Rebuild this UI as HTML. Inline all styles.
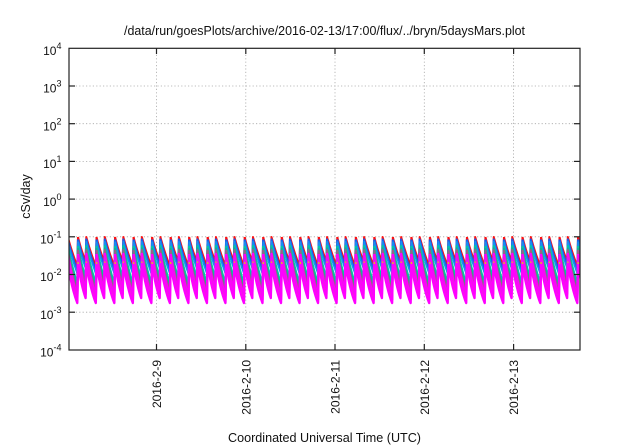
<!DOCTYPE html>
<html><head><meta charset="utf-8"><style>
html,body{margin:0;padding:0;background:#fff;}
svg{display:block;font-family:"Liberation Sans",Arial,sans-serif;}
</style></head><body>
<svg width="640" height="448" viewBox="0 0 640 448" xmlns="http://www.w3.org/2000/svg">
<defs>
<clipPath id="pc"><rect x="69" y="48" width="511" height="302"/></clipPath>
<g id="pair" fill="none" stroke-linejoin="round">
<path stroke="#ff1010" stroke-width="2" d="M0,237 Q3.4,251 7.6,261 L8.3,237 Q12.5,252.5 17.8,266 L18.52,237"/>
<path stroke="#1a5ce8" stroke-width="2.2" d="M0,239.5 Q3.4,254.5 7.6,265.5 L8.3,239.5 Q12.5,256 17.8,271 L18.52,239.5"/>
<path stroke="#1890f0" stroke-width="1.6" d="M0,241.5 Q3.4,257 7.6,268.5 L8.3,241.5 Q12.5,259 17.8,274 L18.52,241.5"/>
<path stroke="#00c8a8" stroke-width="2.2" d="M0,246 Q3.4,265 7.6,278 L8.3,246 Q12.5,267 17.8,284 L18.52,246"/>
<path stroke="#20a890" stroke-width="1.4" d="M0,248 Q3.4,268 7.6,282 L8.3,248 Q12.5,270.5 17.8,288 L18.52,248"/>
<path stroke="#9a6088" stroke-width="2" d="M0,250 Q3.4,272 7.6,286 L8.3,250 Q12.5,274.5 17.8,292 L18.52,250"/>
<path stroke="#ff00ff" stroke-width="2.4" d="M0,254 Q3.4,277 7.6,290.5 L8.3,254 Q12.5,280 17.8,296 L18.52,254"/>
<path stroke="#f010f0" stroke-width="2.4" d="M0,258 Q3.4,281 7.6,294 L8.3,258 Q12.5,284 17.8,299.5 L18.52,258"/>
<path stroke="#e0c020" stroke-width="1.2" d="M0,262 Q3.4,284 7.6,296 L8.3,262 Q12.5,287 17.8,301 L18.52,262"/>
<path stroke="#ff00ff" stroke-width="2.4" d="M0,264 Q3.4,286 7.6,298 L8.3,264 Q12.5,289 17.8,303 L18.52,264"/>
</g>
</defs>

<!-- grid -->
<g stroke="#a8a8a8" stroke-width="0.8" stroke-dasharray="1.2,2.2" fill="none">
<line x1="69" y1="86" x2="580" y2="86"/>
<line x1="69" y1="123.7" x2="580" y2="123.7"/>
<line x1="69" y1="161.4" x2="580" y2="161.4"/>
<line x1="69" y1="199.1" x2="580" y2="199.1"/>
<line x1="69" y1="236.8" x2="580" y2="236.8"/>
<line x1="69" y1="274.5" x2="580" y2="274.5"/>
<line x1="69" y1="312.2" x2="580" y2="312.2"/>
<line x1="156.5" y1="48" x2="156.5" y2="350"/>
<line x1="245.8" y1="48" x2="245.8" y2="350"/>
<line x1="335" y1="48" x2="335" y2="350"/>
<line x1="424.3" y1="48" x2="424.3" y2="350"/>
<line x1="513.6" y1="48" x2="513.6" y2="350"/>
</g>

<!-- data -->
<g clip-path="url(#pc)">
<use href="#pair" x="59.48"/>
<use href="#pair" x="78"/>
<use href="#pair" x="96.52"/>
<use href="#pair" x="115.04"/>
<use href="#pair" x="133.56"/>
<use href="#pair" x="152.08"/>
<use href="#pair" x="170.6"/>
<use href="#pair" x="189.12"/>
<use href="#pair" x="207.64"/>
<use href="#pair" x="226.16"/>
<use href="#pair" x="244.68"/>
<use href="#pair" x="263.2"/>
<use href="#pair" x="281.72"/>
<use href="#pair" x="300.24"/>
<use href="#pair" x="318.76"/>
<use href="#pair" x="337.28"/>
<use href="#pair" x="355.8"/>
<use href="#pair" x="374.32"/>
<use href="#pair" x="392.84"/>
<use href="#pair" x="411.36"/>
<use href="#pair" x="429.88"/>
<use href="#pair" x="448.4"/>
<use href="#pair" x="466.92"/>
<use href="#pair" x="485.44"/>
<use href="#pair" x="503.96"/>
<use href="#pair" x="522.48"/>
<use href="#pair" x="541"/>
<use href="#pair" x="559.52"/>
<use href="#pair" x="578.04"/>
</g>

<!-- border -->
<rect x="69" y="48.3" width="511" height="301.7" fill="none" stroke="#222" stroke-width="1.2"/>
<!-- ticks -->
<g stroke="#222" stroke-width="1.2">
<line x1="69" y1="86" x2="75" y2="86"/><line x1="574" y1="86" x2="580" y2="86"/>
<line x1="69" y1="123.7" x2="75" y2="123.7"/><line x1="574" y1="123.7" x2="580" y2="123.7"/>
<line x1="69" y1="161.4" x2="75" y2="161.4"/><line x1="574" y1="161.4" x2="580" y2="161.4"/>
<line x1="69" y1="199.1" x2="75" y2="199.1"/><line x1="574" y1="199.1" x2="580" y2="199.1"/>
<line x1="69" y1="236.8" x2="75" y2="236.8"/><line x1="574" y1="236.8" x2="580" y2="236.8"/>
<line x1="69" y1="274.5" x2="75" y2="274.5"/><line x1="574" y1="274.5" x2="580" y2="274.5"/>
<line x1="69" y1="312.2" x2="75" y2="312.2"/><line x1="574" y1="312.2" x2="580" y2="312.2"/>
<line x1="156.5" y1="350" x2="156.5" y2="344"/><line x1="156.5" y1="48" x2="156.5" y2="54"/>
<line x1="245.8" y1="350" x2="245.8" y2="344"/><line x1="245.8" y1="48" x2="245.8" y2="54"/>
<line x1="335" y1="350" x2="335" y2="344"/><line x1="335" y1="48" x2="335" y2="54"/>
<line x1="424.3" y1="350" x2="424.3" y2="344"/><line x1="424.3" y1="48" x2="424.3" y2="54"/>
<line x1="513.6" y1="350" x2="513.6" y2="344"/><line x1="513.6" y1="48" x2="513.6" y2="54"/>
</g>

<!-- title -->
<text x="324.5" y="35" font-size="12.5" text-anchor="middle" fill="#111" textLength="401" lengthAdjust="spacingAndGlyphs">/data/run/goesPlots/archive/2016-02-13/17:00/flux/../bryn/5daysMars.plot</text>

<!-- y tick labels -->
<g font-size="12" fill="#111" text-anchor="end">
<text x="61.5" y="55">10<tspan font-size="9" dy="-6">4</tspan></text>
<text x="61.5" y="92.7">10<tspan font-size="9" dy="-6">3</tspan></text>
<text x="61.5" y="130.4">10<tspan font-size="9" dy="-6">2</tspan></text>
<text x="61.5" y="168.1">10<tspan font-size="9" dy="-6">1</tspan></text>
<text x="61.5" y="205.8">10<tspan font-size="9" dy="-6">0</tspan></text>
<text x="61.5" y="243.5">10<tspan font-size="9" dy="-6">-1</tspan></text>
<text x="61.5" y="281.2">10<tspan font-size="9" dy="-6">-2</tspan></text>
<text x="61.5" y="318.9">10<tspan font-size="9" dy="-6">-3</tspan></text>
<text x="61.5" y="356.6">10<tspan font-size="9" dy="-6">-4</tspan></text>
</g>

<!-- y label -->
<text transform="translate(30,196.5) rotate(-90)" font-size="12.5" text-anchor="middle" fill="#111">cSv/day</text>

<!-- x tick labels -->
<g font-size="12" fill="#111" text-anchor="end">
<text transform="translate(161,360) rotate(-90)">2016-2-9</text>
<text transform="translate(250.3,360) rotate(-90)">2016-2-10</text>
<text transform="translate(339.5,360) rotate(-90)">2016-2-11</text>
<text transform="translate(428.8,360) rotate(-90)">2016-2-12</text>
<text transform="translate(518.1,360) rotate(-90)">2016-2-13</text>
</g>

<!-- x label -->
<text x="324.5" y="442" font-size="12.5" text-anchor="middle" fill="#111" textLength="193" lengthAdjust="spacingAndGlyphs">Coordinated Universal Time (UTC)</text>
</svg>
</body></html>
